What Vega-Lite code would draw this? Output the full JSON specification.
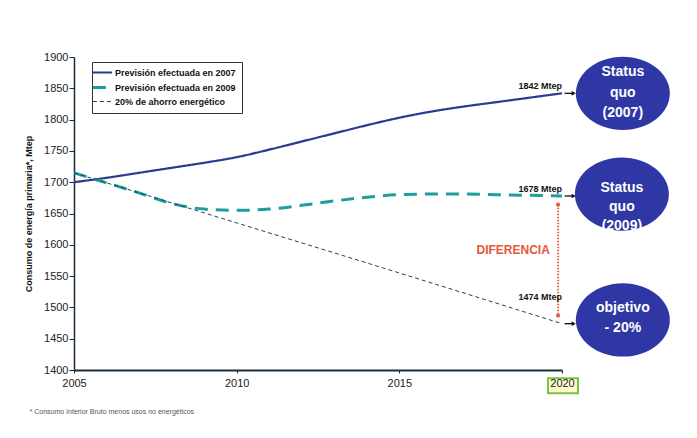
{
  "$schema": "https://vega.github.io/schema/vega-lite/v6.json",
  "width": 488,
  "height": 313,
  "autosize": {"type": "none"},
  "padding": {"left": 74, "top": 57, "right": 135, "bottom": 68},
  "background": "white",
  "config": {
    "font": "Liberation Sans",
    "view": {"stroke": null},
    "legend": {
      "orient": "none",
      "legendX": 18,
      "legendY": 5,
      "strokeColor": "#333333",
      "fillColor": "white",
      "padding": 6,
      "labelFont": "Liberation Sans",
      "labelFontWeight": "bold",
      "labelFontSize": 9,
      "labelColor": "#111111",
      "symbolSize": 144,
      "rowPadding": 3,
      "labelOffset": 8,
      "labelLimit": 300
    }
  },
  "title": {
    "text": "* Consumo Interior Bruto menos usos no energéticos",
    "orient": "bottom",
    "anchor": "start",
    "frame": "bounds",
    "fontSize": 7,
    "fontWeight": "normal",
    "color": "#555555",
    "offset": 14,
    "dx": 5
  },
  "datasets": {
    "lines": [
      {"year": 2005, "value": 1700, "series": "Previsión efectuada en 2007"},
      {"year": 2006, "value": 1707, "series": "Previsión efectuada en 2007"},
      {"year": 2007, "value": 1715, "series": "Previsión efectuada en 2007"},
      {"year": 2008, "value": 1723, "series": "Previsión efectuada en 2007"},
      {"year": 2009, "value": 1731, "series": "Previsión efectuada en 2007"},
      {"year": 2010, "value": 1740, "series": "Previsión efectuada en 2007"},
      {"year": 2011, "value": 1752, "series": "Previsión efectuada en 2007"},
      {"year": 2012, "value": 1765, "series": "Previsión efectuada en 2007"},
      {"year": 2013, "value": 1778, "series": "Previsión efectuada en 2007"},
      {"year": 2014, "value": 1791, "series": "Previsión efectuada en 2007"},
      {"year": 2015, "value": 1803, "series": "Previsión efectuada en 2007"},
      {"year": 2016, "value": 1813, "series": "Previsión efectuada en 2007"},
      {"year": 2017, "value": 1821, "series": "Previsión efectuada en 2007"},
      {"year": 2018, "value": 1828, "series": "Previsión efectuada en 2007"},
      {"year": 2019, "value": 1835, "series": "Previsión efectuada en 2007"},
      {"year": 2020, "value": 1842, "series": "Previsión efectuada en 2007"},
      {"year": 2005, "value": 1715, "series": "Previsión efectuada en 2009"},
      {"year": 2006, "value": 1699, "series": "Previsión efectuada en 2009"},
      {"year": 2007, "value": 1683, "series": "Previsión efectuada en 2009"},
      {"year": 2008, "value": 1666, "series": "Previsión efectuada en 2009"},
      {"year": 2009, "value": 1657, "series": "Previsión efectuada en 2009"},
      {"year": 2010, "value": 1655, "series": "Previsión efectuada en 2009"},
      {"year": 2011, "value": 1657, "series": "Previsión efectuada en 2009"},
      {"year": 2012, "value": 1663, "series": "Previsión efectuada en 2009"},
      {"year": 2013, "value": 1670, "series": "Previsión efectuada en 2009"},
      {"year": 2014, "value": 1676, "series": "Previsión efectuada en 2009"},
      {"year": 2015, "value": 1680, "series": "Previsión efectuada en 2009"},
      {"year": 2016, "value": 1681, "series": "Previsión efectuada en 2009"},
      {"year": 2017, "value": 1681, "series": "Previsión efectuada en 2009"},
      {"year": 2018, "value": 1680, "series": "Previsión efectuada en 2009"},
      {"year": 2019, "value": 1679, "series": "Previsión efectuada en 2009"},
      {"year": 2020, "value": 1678, "series": "Previsión efectuada en 2009"},
      {"year": 2005, "value": 1715, "series": "20% de ahorro energético"},
      {"year": 2010, "value": 1635, "series": "20% de ahorro energético"},
      {"year": 2015, "value": 1555, "series": "20% de ahorro energético"},
      {"year": 2020, "value": 1474, "series": "20% de ahorro energético"}
    ],
    "ends": [
      {"value": 1842, "label": "1842 Mtep"},
      {"value": 1678, "label": "1678 Mtep"},
      {"value": 1474, "label": "1474 Mtep"}
    ],
    "bubbles": [
      {"x": 2021.87, "y": 1842, "label": "Status\nquo\n(2007)"},
      {"x": 2021.84, "y": 1681, "label": "Status\nquo\n(2009)"},
      {"x": 2021.87, "y": 1480, "label": "objetivo\n- 20%"}
    ],
    "diff": [
      {"year": 2019.88, "top": 1664, "bottom": 1487, "label": "DIFERENCIA", "labelYear": 2018.5, "labelValue": 1592}
    ],
    "highlight": [
      {"x1": 2019.57, "x2": 2020.49, "lo": 1363, "hi": 1387}
    ]
  },
  "layer": [
    {
      "data": {"name": "lines"},
      "mark": {"type": "line", "interpolate": "monotone"},
      "encoding": {
        "x": {
          "field": "year",
          "type": "quantitative",
          "scale": {"domain": [2005, 2020], "nice": false, "zero": false},
          "axis": {
            "title": null,
            "values": [2005, 2010, 2015, 2020],
            "tickCount": 20,
            "format": "d",
            "labelFontSize": 11,
            "labelColor": "#222222",
            "labelFlush": false,
            "tickSize": 3,
            "tickColor": "#1b2a3a",
            "domainWidth": 2,
            "domainColor": "#1b2a3a",
            "grid": false,
            "labelPadding": 4,
            "zindex": 1
          }
        },
        "y": {
          "field": "value",
          "type": "quantitative",
          "scale": {"domain": [1400, 1900], "nice": false, "zero": false},
          "axis": {
            "title": "Consumo de energía primaria*, Mtep",
            "titleFontSize": 9,
            "titleFontWeight": "bold",
            "titleColor": "#111111",
            "titlePadding": 10,
            "values": [1400, 1450, 1500, 1550, 1600, 1650, 1700, 1750, 1800, 1850, 1900],
            "tickCount": 20,
            "format": "d",
            "labelOverlap": false,
            "labelFontSize": 11,
            "labelColor": "#222222",
            "tickSize": 5,
            "tickColor": "#1b2a3a",
            "domainColor": "#1b2a3a",
            "domainWidth": 1.5,
            "grid": false,
            "labelPadding": 1
          }
        },
        "color": {
          "field": "series",
          "type": "nominal",
          "scale": {
            "domain": ["Previsión efectuada en 2007", "Previsión efectuada en 2009", "20% de ahorro energético"],
            "range": ["#2b3a8c", "#1f9c9c", "#22425e"]
          },
          "legend": {
            "title": null,
            "symbolType": "M -1.6 0 L 1.6 0",
            "encode": {
              "symbols": {
                "update": {
                  "strokeWidth": {"signal": "datum.value === '20% de ahorro energético' ? 1 : datum.value === 'Previsión efectuada en 2009' ? 3 : 2.2"}
                }
              }
            }
          }
        },
        "strokeDash": {
          "field": "series",
          "type": "nominal",
          "scale": {
            "domain": ["Previsión efectuada en 2007", "Previsión efectuada en 2009", "20% de ahorro energético"],
            "range": [[1, 0], [13, 8], [4, 3]]
          },
          "legend": {"title": null, "symbolType": "M -1.6 0 L 1.6 0"}
        },
        "strokeWidth": {
          "condition": [
            {"test": "datum.series === '20% de ahorro energético'", "value": 1},
            {"test": "datum.series === 'Previsión efectuada en 2009'", "value": 3}
          ],
          "value": 2.2
        }
      }
    },
    {
      "data": {"name": "highlight"},
      "mark": {"type": "rect", "fill": "#fffbd0", "stroke": "#7cc142", "strokeWidth": 2},
      "encoding": {
        "x": {"field": "x1", "type": "quantitative"},
        "x2": {"field": "x2"},
        "y": {"field": "lo", "type": "quantitative"},
        "y2": {"field": "hi"}
      }
    },
    {
      "data": {"name": "diff"},
      "mark": {"type": "rule", "color": "#e8603c", "strokeWidth": 2, "strokeDash": [1.5, 1.5]},
      "encoding": {
        "x": {"field": "year", "type": "quantitative"},
        "y": {"field": "top", "type": "quantitative"},
        "y2": {"field": "bottom"}
      }
    },
    {
      "data": {"name": "diff"},
      "transform": [{"fold": ["top", "bottom"], "as": ["end", "v"]}],
      "mark": {"type": "point", "filled": true, "color": "#e8603c", "size": 18, "opacity": 1},
      "encoding": {
        "x": {"field": "year", "type": "quantitative"},
        "y": {"field": "v", "type": "quantitative"}
      }
    },
    {
      "data": {"name": "diff"},
      "mark": {"type": "text", "color": "#e5583a", "fontSize": 12, "fontWeight": "bold", "align": "center", "baseline": "middle"},
      "encoding": {
        "x": {"field": "labelYear", "type": "quantitative"},
        "y": {"field": "labelValue", "type": "quantitative"},
        "text": {"field": "label"}
      }
    },
    {
      "data": {"name": "ends"},
      "mark": {"type": "rule", "color": "#111111", "strokeWidth": 1.3},
      "encoding": {
        "x": {"datum": 2020.08, "type": "quantitative"},
        "x2": {"datum": 2020.33},
        "y": {"field": "value", "type": "quantitative"}
      }
    },
    {
      "data": {"name": "ends"},
      "mark": {"type": "point", "shape": "triangle-right", "filled": true, "color": "#111111", "size": 22, "opacity": 1},
      "encoding": {
        "x": {"datum": 2020.36, "type": "quantitative"},
        "y": {"field": "value", "type": "quantitative"}
      }
    },
    {
      "data": {"name": "ends"},
      "transform": [{"filter": "datum.value != 1474"}],
      "mark": {"type": "text", "fontSize": 9, "fontWeight": "bold", "color": "#111111", "align": "right", "baseline": "middle", "dy": -7},
      "encoding": {
        "x": {"datum": 2020, "type": "quantitative"},
        "y": {"field": "value", "type": "quantitative"},
        "text": {"field": "label"}
      }
    },
    {
      "data": {"name": "ends"},
      "transform": [{"filter": "datum.value == 1474"}],
      "mark": {"type": "text", "fontSize": 9, "fontWeight": "bold", "color": "#111111", "align": "right", "baseline": "middle", "dy": -27},
      "encoding": {
        "x": {"datum": 2020, "type": "quantitative"},
        "y": {"field": "value", "type": "quantitative"},
        "text": {"field": "label"}
      }
    },
    {
      "data": {"name": "bubbles"},
      "mark": {
        "type": "point",
        "shape": "M -1 0 C -1 -0.43 -0.55 -0.78 0 -0.78 C 0.55 -0.78 1 -0.43 1 0 C 1 0.43 0.55 0.78 0 0.78 C -0.55 0.78 -1 0.43 -1 0 Z",
        "size": 8836,
        "filled": true,
        "color": "#2e37a4",
        "opacity": 1
      },
      "encoding": {
        "x": {"field": "x", "type": "quantitative"},
        "y": {"field": "y", "type": "quantitative"}
      }
    },
    {
      "data": {"name": "bubbles"},
      "transform": [{"filter": "datum.y == 1842"}],
      "mark": {"type": "text", "fontSize": 14, "fontWeight": "bold", "color": "white", "align": "center", "baseline": "middle", "lineBreak": "\n", "lineHeight": 20.5, "dy": -21},
      "encoding": {
        "x": {"field": "x", "type": "quantitative"},
        "y": {"field": "y", "type": "quantitative"},
        "text": {"field": "label"}
      }
    },
    {
      "data": {"name": "bubbles"},
      "transform": [{"filter": "datum.y == 1681"}],
      "mark": {"type": "text", "fontSize": 14, "fontWeight": "bold", "color": "white", "align": "center", "baseline": "middle", "lineBreak": "\n", "lineHeight": 19, "dy": -6},
      "encoding": {
        "x": {"field": "x", "type": "quantitative"},
        "y": {"field": "y", "type": "quantitative"},
        "text": {"field": "label"}
      }
    },
    {
      "data": {"name": "bubbles"},
      "transform": [{"filter": "datum.y == 1480"}],
      "mark": {"type": "text", "fontSize": 14, "fontWeight": "bold", "color": "white", "align": "center", "baseline": "middle", "lineBreak": "\n", "lineHeight": 20, "dy": -12},
      "encoding": {
        "x": {"field": "x", "type": "quantitative"},
        "y": {"field": "y", "type": "quantitative"},
        "text": {"field": "label"}
      }
    }
  ]
}
